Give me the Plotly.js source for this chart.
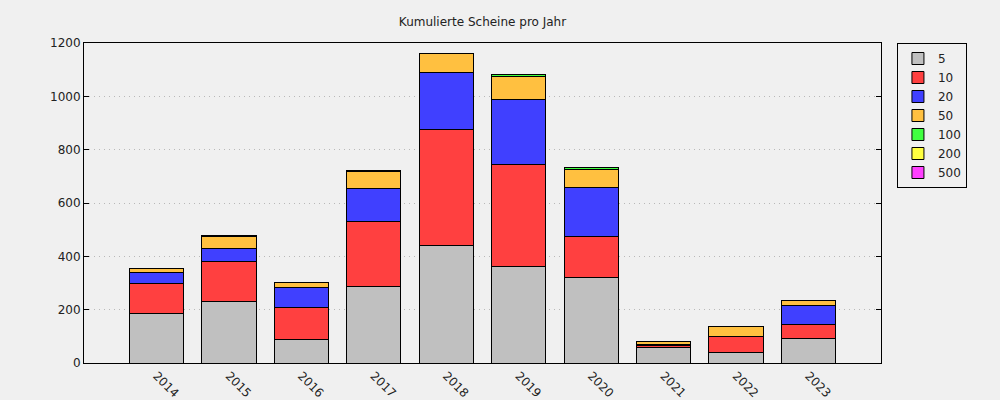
<!DOCTYPE html>
<html>
<head>
<meta charset="utf-8">
<script src="https://cdn.plot.ly/plotly-3.0.1.min.js"></script>
<style>html,body{margin:0;padding:0;background:#f0f0f0;}</style>
</head>
<body>
<div id="chart" style="width:1000px;height:400px;"></div>
<script>
const years = ["2014","2015","2016","2017","2018","2019","2020","2021","2022","2023"];
const denominations = ["5","10","20","50","100","200","500"];
const s5   = [186, 231,  89, 288, 441, 363, 321, 59, 40, 93];
const s10  = [113, 151, 120, 243, 435, 382, 154,  7, 60, 52];
const s20  = [ 41,  49,  75, 124, 214, 244, 184,  4,  0, 71];
const s50  = [ 15,  45,  19,  64,  71,  86,  67,  9, 38, 19];
const s100 = [  0,   2,   0,   3,   0,   6,   6,  1,  0,  0];
const s200 = [  0,   0,   0,   0,   0,   0,   0,  0,  0,  0];
const s500 = [  0,   0,   0,   0,   0,   0,   0,  0,  0,  0];
const seriesValues = [s5, s10, s20, s50, s100, s200, s500];
const colors = ["#c0c0c0","#ff4040","#4040ff","#ffc040","#40ff40","#ffff40","#ff40ff"];

const traces = denominations.map((d, i) => ({
  type: "bar",
  name: d,
  x: years,
  y: seriesValues[i],
  marker: {color: colors[i], line: {color: "#000000", width: 1}},
  hoverinfo: "x+y+name"
}));

const layout = {
  width: 1000, height: 400,
  barmode: "stack",
  bargap: 0.25,
  paper_bgcolor: "#f0f0f0",
  plot_bgcolor: "#f0f0f0",
  font: {family: "DejaVu Sans, sans-serif", size: 12, color: "#222222"},
  title: {text: "Kumulierte Scheine pro Jahr", x: 0.4825, xanchor: "center", y: 0.945, yanchor: "middle", font: {size: 12, color: "#222222"}},
  margin: {l: 84, r: 119, t: 43, b: 37},
  xaxis: {
    type: "category",
    range: [-1, 10],
    tickangle: 45,
    showline: true, mirror: true, linecolor: "#000000", linewidth: 1,
    ticks: "", showgrid: false, zeroline: false,
    tickfont: {size: 12}
  },
  yaxis: {
    range: [0, 1200],
    dtick: 200,
    showline: true, mirror: "ticks", linecolor: "#000000", linewidth: 1,
    ticks: "inside", ticklen: 5, tickcolor: "#000000",
    showgrid: true, gridcolor: "#b8b8b8", griddash: "1px,4px", gridwidth: 1,
    zeroline: false,
    tickfont: {size: 12}
  },
  legend: {
    x: 1.02, xanchor: "left", y: 1, yanchor: "top",
    bgcolor: "#f0f0f0", bordercolor: "#000000", borderwidth: 1,
    traceorder: "normal",
    font: {size: 12},
    tracegroupgap: 0,
    itemwidth: 30
  },
  showlegend: true
};

Plotly.newPlot("chart", traces, layout, {displayModeBar: false, staticPlot: true});
</script>
</body>
</html>
